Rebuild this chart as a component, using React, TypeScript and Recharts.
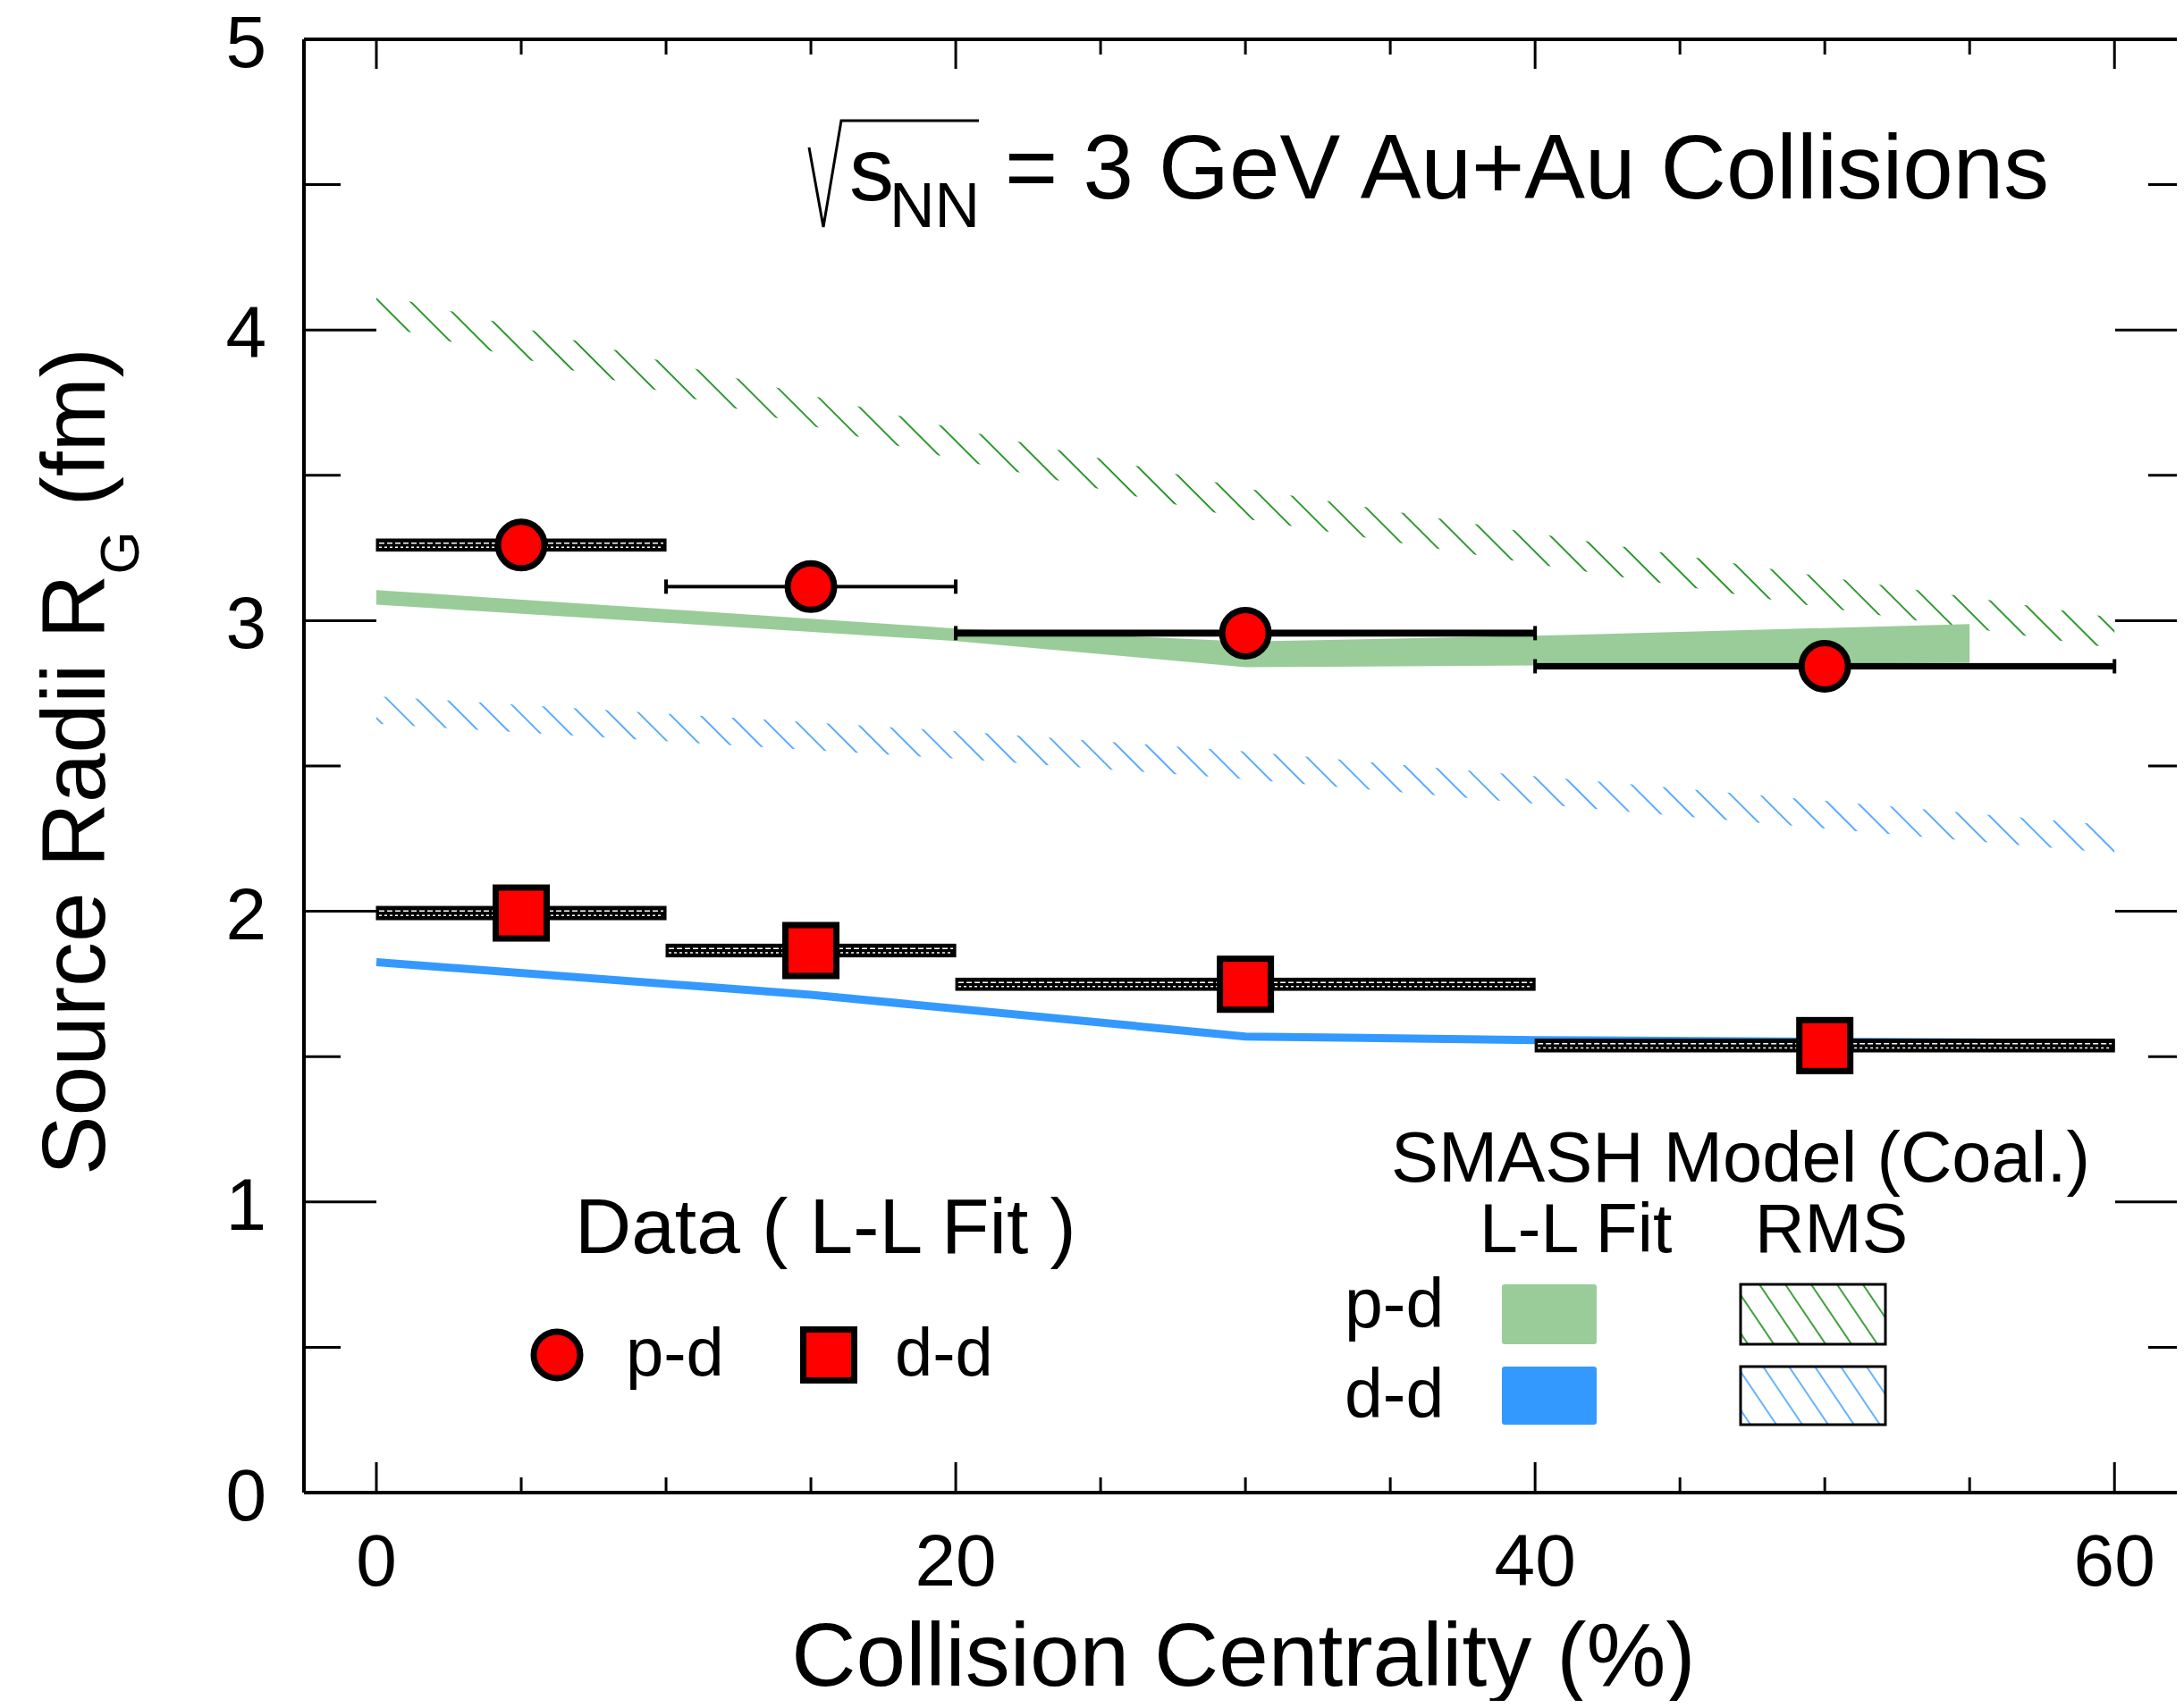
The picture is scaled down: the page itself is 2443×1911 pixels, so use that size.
import React from "react";
import {
  ComposedChart,
  XAxis,
  YAxis,
  Area,
  Line,
  Scatter,
  ReferenceArea,
  ReferenceLine,
} from "recharts";

// centrality bins (%)
const binLow = [0, 10, 20, 40];
const binHigh = [10, 20, 40, 60];
const binCenter = [5, 15, 30, 50];

// data, L-L fit (fm)
const pdRadius = [3.26, 3.117, 2.957, 2.843];
const pdSys = [0.021, 0.006, 0.012, 0.011];
const ddRadius = [1.994, 1.865, 1.749, 1.538];
const ddSys = [0.023, 0.022, 0.021, 0.022];

// SMASH model (coal.), L-L fit
const pdFitX = [0, 10, 20, 30, 40, 55];
const pdFitLow = [3.055, 2.993, 2.93, 2.84, 2.846, 2.855];
const pdFitHigh = [3.105, 3.04, 2.973, 2.928, 2.948, 2.988];
const ddFitX = [0, 15, 30, 40, 60];
const ddFit = [1.825, 1.713, 1.569, 1.557, 1.546];

// SMASH model (coal.), RMS
const rmsX = [0, 10, 20, 30, 40, 50, 60];
const pdRmsHigh = [4.125, 3.89, 3.66, 3.455, 3.3, 3.15, 3.01];
const pdRmsLow = [4.02, 3.785, 3.555, 3.35, 3.195, 3.045, 2.905];
const ddRmsHigh = [2.74, 2.68, 2.62, 2.55, 2.465, 2.38, 2.295];
const ddRmsLow = [2.645, 2.585, 2.525, 2.455, 2.37, 2.285, 2.2];

const xTicks = [0, 5, 10, 15, 20, 25, 30, 35, 40, 45, 50, 55, 60];
const xLabelTicks = [0, 20, 40, 60];
const yTicks = [0, 0.5, 1, 1.5, 2, 2.5, 3, 3.5, 4, 4.5, 5];
const yLabelTicks = [0, 1, 2, 3, 4, 5];

const pdPoints = binCenter.map((x, i) => ({ x, y: pdRadius[i] }));
const ddPoints = binCenter.map((x, i) => ({ x, y: ddRadius[i] }));
const pdFitBand = pdFitX.map((x, i) => ({ x, range: [pdFitLow[i], pdFitHigh[i]] }));
const ddFitLine = ddFitX.map((x, i) => ({ x, y: ddFit[i] }));
const pdRmsBand = rmsX.map((x, i) => ({ x, range: [pdRmsLow[i], pdRmsHigh[i]] }));
const ddRmsBand = rmsX.map((x, i) => ({ x, range: [ddRmsLow[i], ddRmsHigh[i]] }));

// which p-d points get the capped bar instead of the hatched box
const PD_CAPPED = [false, true, true, true];

const FONT = "'Liberation Sans', Arial, Helvetica, sans-serif";
const GREEN = "#99cc99";
const BLUE = "#3399ff";
const HATCH_GREEN = "#008000";

const W = 2435;
const H = 1895;
const PL = 332;
const PR = 2435;
const PT = 36;
const PB = 1662;

const XTick = (props: any) => {
  const { x, payload } = props;
  const v = payload.value;
  const major = xLabelTicks.includes(v);
  return (
    <g>
      <line x1={x} x2={x} y1={PB} y2={PB - (major ? 34 : 17)} stroke="#000" strokeWidth={3} />
      <line x1={x} x2={x} y1={PT} y2={PT + (major ? 33 : 17)} stroke="#000" strokeWidth={3} />
      {major && (
        <text x={x} y={PB + 104} textAnchor="middle" fontSize={82} fontFamily={FONT} fill="#000">
          {v}
        </text>
      )}
    </g>
  );
};

const YTick = (props: any) => {
  const { y, payload } = props;
  const v = payload.value;
  const major = yLabelTicks.includes(v);
  return (
    <g>
      <line x1={PL} x2={PL + (major ? 81 : 41)} y1={y} y2={y} stroke="#000" strokeWidth={3} />
      <line x1={PR} x2={PR - (major ? 77 : 40)} y1={y} y2={y} stroke="#000" strokeWidth={3} />
      {major && (
        <text x={PL - 42} y={y + 31} textAnchor="end" fontSize={82} fontFamily={FONT} fill="#000">
          {v}
        </text>
      )}
    </g>
  );
};

const SysShape = (props: any) => {
  const { x, y, width, height, capped } = props;
  if (x == null || y == null) return null;
  const top = height < 0 ? y + height : y;
  const h = Math.abs(height);
  const cy = top + h / 2;
  if (capped) {
    return (
      <g>
        <rect x={x} y={top} width={width} height={Math.max(h, 3)} fill="#000" />
        <rect x={x - 2} y={cy - 8} width={4} height={16} fill="#000" />
        <rect x={x + width - 2} y={cy - 8} width={4} height={16} fill="#000" />
      </g>
    );
  }
  return (
    <g>
      <rect x={x} y={top} width={width} height={h} fill="#000" stroke="#000" strokeWidth={1} />
      <line x1={x + 3} x2={x + width - 3} y1={top + h * 0.35} y2={top + h * 0.35}
        stroke="#fff" strokeWidth={1.5} strokeDasharray="6 3" />
      <line x1={x + 3} x2={x + width - 3} y1={top + h * 0.68} y2={top + h * 0.68}
        stroke="#fff" strokeWidth={1.5} strokeDasharray="3 3" />
    </g>
  );
};

const Circle = (p: any) => (
  <circle cx={p.cx} cy={p.cy} r={26} fill="#ff0000" stroke="#000" strokeWidth={7} />
);
const Square = (p: any) => (
  <rect x={p.cx - 28.5} y={p.cy - 28.5} width={57} height={57} fill="#ff0000" stroke="#000" strokeWidth={7} />
);

const Overlay = () => (
  <svg width={W} height={H} style={{ position: "absolute", left: 0, top: 0, overflow: "visible", pointerEvents: "none" }}>
    <defs>
      <pattern id="legHatchGreen" patternUnits="userSpaceOnUse" width={24} height={24} patternTransform="rotate(-34)">
        <line x1={12} y1={0} x2={12} y2={24} stroke={HATCH_GREEN} strokeWidth={1.5} />
      </pattern>
      <pattern id="legHatchBlue" patternUnits="userSpaceOnUse" width={24} height={24} patternTransform="rotate(-34)">
        <line x1={12} y1={0} x2={12} y2={24} stroke={BLUE} strokeWidth={1.5} />
      </pattern>
    </defs>
    <g transform="translate(-8,-8)" fontFamily={FONT} fill="#000">
      {/* energy label */}
      <path d="M905,165 L921,254 L941,135 L1095,135" stroke="#000" strokeWidth={3} fill="none" />
      <text x={950} y={224} fontSize={100}>s</text>
      <text x={995} y={254} fontSize={70}>NN</text>
      <text x={1124} y={222} fontSize={101.5}>= 3 GeV Au+Au Collisions</text>

      {/* axis titles */}
      <text x={1391} y={1886} textAnchor="middle" fontSize={100}>Collision Centrality (%)</text>
      <text transform="translate(117,852) rotate(-90)" textAnchor="middle" fontSize={100}>
        Source Radii R<tspan fontSize={62} dy={38}>G</tspan><tspan dy={-38}> (fm)</tspan>
      </text>

      {/* data legend */}
      <text x={643} y={1402} fontSize={87.5}>Data ( L-L Fit )</text>
      <circle cx={623} cy={1516} r={26} fill="#ff0000" stroke="#000" strokeWidth={7} />
      <text x={700} y={1539} fontSize={76}>p-d</text>
      <rect x={898.5} y={1487.5} width={57} height={57} fill="#ff0000" stroke="#000" strokeWidth={7} />
      <text x={1001} y={1539} fontSize={76}>d-d</text>

      {/* model legend */}
      <text x={1556} y={1322} fontSize={79.5}>SMASH Model (Coal.)</text>
      <text x={1655} y={1401} fontSize={77}>L-L Fit</text>
      <text x={1963} y={1401} fontSize={77}>RMS</text>
      <text x={1504} y={1485} fontSize={77}>p-d</text>
      <rect x={1680} y={1437} width={106} height={67} rx={3} fill={GREEN} />
      <rect x={1947} y={1437} width={162} height={67} fill="url(#legHatchGreen)" stroke="#000" strokeWidth={3} />
      <text x={1504} y={1586} fontSize={77}>d-d</text>
      <rect x={1680} y={1529} width={106} height={65} rx={3} fill={BLUE} />
      <rect x={1947} y={1529} width={162} height={65} fill="url(#legHatchBlue)" stroke="#000" strokeWidth={3} />
    </g>
  </svg>
);

export default function App() {
  return (
    <div style={{ position: "relative", width: W, height: H, fontFamily: FONT, background: "#fff" }}>
      <ComposedChart
        width={W}
        height={H}
        margin={{ top: PT, right: 0, left: PL - 100, bottom: H - PB - 100 }}
      >
        <defs>
          <pattern id="hatchGreen" patternUnits="userSpaceOnUse" width={24.7} height={24.7} patternTransform="rotate(-45)">
            <line x1={12} y1={0} x2={12} y2={24.7} stroke={HATCH_GREEN} strokeWidth={1.6} />
          </pattern>
          <pattern id="hatchBlue" patternUnits="userSpaceOnUse" width={23.5} height={23.5} patternTransform="rotate(-45)">
            <line x1={11.7} y1={0} x2={11.7} y2={23.5} stroke={BLUE} strokeWidth={1.6} />
          </pattern>
        </defs>
        <XAxis
          type="number"
          dataKey="x"
          domain={[-2.5, 62.4]}
          ticks={xTicks}
          interval={0}
          allowDataOverflow
          height={100}
          tickSize={0}
          tickMargin={0}
          tickLine={false}
          axisLine={{ stroke: "#000", strokeWidth: 4 }}
          tick={<XTick />}
        />
        <YAxis
          type="number"
          domain={[0, 5]}
          ticks={yTicks}
          interval={0}
          allowDataOverflow
          width={100}
          tickSize={0}
          tickMargin={0}
          tickLine={false}
          axisLine={{ stroke: "#000", strokeWidth: 4 }}
          tick={<YTick />}
        />
        <ReferenceLine y={5} stroke="#000" strokeWidth={4} />

        <Area data={pdRmsBand} dataKey="range" type="linear" stroke="none" fill="url(#hatchGreen)" fillOpacity={1} isAnimationActive={false} />
        <Area data={ddRmsBand} dataKey="range" type="linear" stroke="none" fill="url(#hatchBlue)" fillOpacity={1} isAnimationActive={false} />
        <Area data={pdFitBand} dataKey="range" type="linear" stroke="none" fill={GREEN} fillOpacity={1} isAnimationActive={false} />
        <Line data={ddFitLine} dataKey="y" type="linear" stroke={BLUE} strokeWidth={9} dot={false} activeDot={false} isAnimationActive={false} />

        {binCenter.map((_, i) => (
          <ReferenceArea
            key={"pd" + i}
            x1={binLow[i]}
            x2={binHigh[i]}
            y1={pdRadius[i] - pdSys[i]}
            y2={pdRadius[i] + pdSys[i]}
            fill="#000"
            fillOpacity={1}
            zIndex={450}
            shape={(p: any) => <SysShape {...p} capped={PD_CAPPED[i]} />}
          />
        ))}
        {binCenter.map((_, i) => (
          <ReferenceArea
            key={"dd" + i}
            x1={binLow[i]}
            x2={binHigh[i]}
            y1={ddRadius[i] - ddSys[i]}
            y2={ddRadius[i] + ddSys[i]}
            fill="#000"
            fillOpacity={1}
            zIndex={450}
            shape={(p: any) => <SysShape {...p} capped={false} />}
          />
        ))}

        <Scatter data={pdPoints} dataKey="y" shape={Circle} isAnimationActive={false} />
        <Scatter data={ddPoints} dataKey="y" shape={Square} isAnimationActive={false} />
      </ComposedChart>
      <Overlay />
    </div>
  );
}
